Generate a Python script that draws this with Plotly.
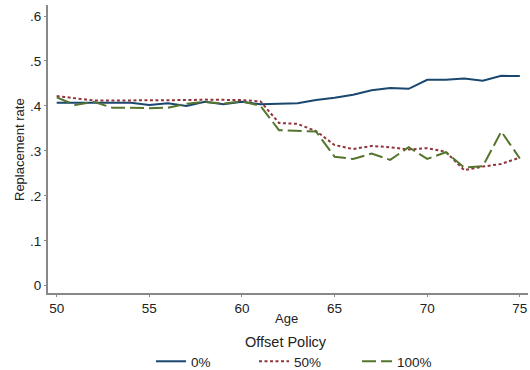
import plotly.graph_objects as go

ages = list(range(50, 76))
offset_0 = [0.407, 0.407, 0.407, 0.407, 0.407, 0.402, 0.406, 0.400, 0.409, 0.4035, 0.409,
            0.4035, 0.405, 0.406, 0.413, 0.418, 0.425, 0.435, 0.440, 0.438, 0.458, 0.458,
            0.461, 0.456, 0.467, 0.4665]
offset_50 = [0.422, 0.417, 0.412, 0.412, 0.412, 0.412, 0.412, 0.413, 0.414, 0.413, 0.413,
             0.410, 0.362, 0.360, 0.344, 0.313, 0.304, 0.311, 0.308, 0.303, 0.306, 0.298,
             0.257, 0.265, 0.271, 0.285]
offset_100 = [0.419, 0.402, 0.409, 0.396, 0.396, 0.395, 0.396, 0.405, 0.409, 0.405, 0.410,
              0.400, 0.346, 0.345, 0.343, 0.287, 0.282, 0.294, 0.280, 0.308, 0.282, 0.297,
              0.263, 0.266, 0.343, 0.283]
series_names = ["0%", "50%", "100%"]
y_ticks = [0, 0.1, 0.2, 0.3, 0.4, 0.5, 0.6]
y_tick_labels = ["0", ".1", ".2", ".3", ".4", ".5", ".6"]
x_ticks = [50, 55, 60, 65, 70, 75]

colors = ["#1a476f", "#90353b", "#55752f"]
dashes = ["solid", "3px,2.5px", "14px,5px"]

fig = go.Figure()
for name, vals, c, d in zip(series_names, [offset_0, offset_50, offset_100], colors, dashes):
    fig.add_trace(go.Scatter(x=ages, y=vals, mode="lines", name=name,
                             line=dict(color=c, width=2, dash=d)))

W, H = 530, 370
L, R, T, B = 48, 2, 5, 77
pw, ph = W - L - R, H - T - B

font = "Liberation Sans, Arial, sans-serif"
fig.update_layout(
    width=W, height=H,
    margin=dict(l=L, r=R, t=T, b=B, autoexpand=False),
    paper_bgcolor="white", plot_bgcolor="white",
    font=dict(family=font, size=13.5, color="#222"),
    showlegend=True,
    legend=dict(orientation="h", x=151 / W, xanchor="left", xref="container",
                y=(H - 346) / H, yanchor="top", yref="container",
                font=dict(size=13.5), entrywidth=58, entrywidthmode="pixels",
                tracegroupgap=0),
    annotations=[
        dict(text="Offset Policy", x=(286 - L) / pw, xref="paper", y=-(342 - (H - B)) / ph,
             yref="paper", xanchor="center", yanchor="middle", showarrow=False,
             font=dict(size=14.5)),
        dict(text="Age", x=(286 - L) / pw, xref="paper", y=-(318 - (H - B)) / ph,
             yref="paper", xanchor="center", yanchor="middle", showarrow=False,
             font=dict(size=13)),
        dict(text="Replacement rate", x=(19 - L) / pw, xref="paper",
             y=1 - (150 - T) / ph, yref="paper", xanchor="center", yanchor="middle",
             textangle=-90, showarrow=False, font=dict(size=13)),
    ],
)

fig.update_xaxes(range=[49.53, 75.44], tickvals=x_ticks, ticks="outside", ticklen=2,
                 tickcolor="#888", showline=True, linecolor="#888", linewidth=2,
                 showgrid=False, zeroline=False,
                 tickfont=dict(size=13.5), automargin=False)
fig.update_yaxes(range=[-0.0162, 0.6245], tickvals=y_ticks, ticktext=y_tick_labels,
                 ticks="outside", ticklen=2, tickcolor="#888", showline=True,
                 linecolor="#888", linewidth=2, showgrid=False, zeroline=False,
                 tickfont=dict(size=13.5), automargin=False)

fig.write_html("out.html", config={"displayModeBar": False},
               post_script="document.body.style.margin='0';document.body.style.overflow='hidden';")
